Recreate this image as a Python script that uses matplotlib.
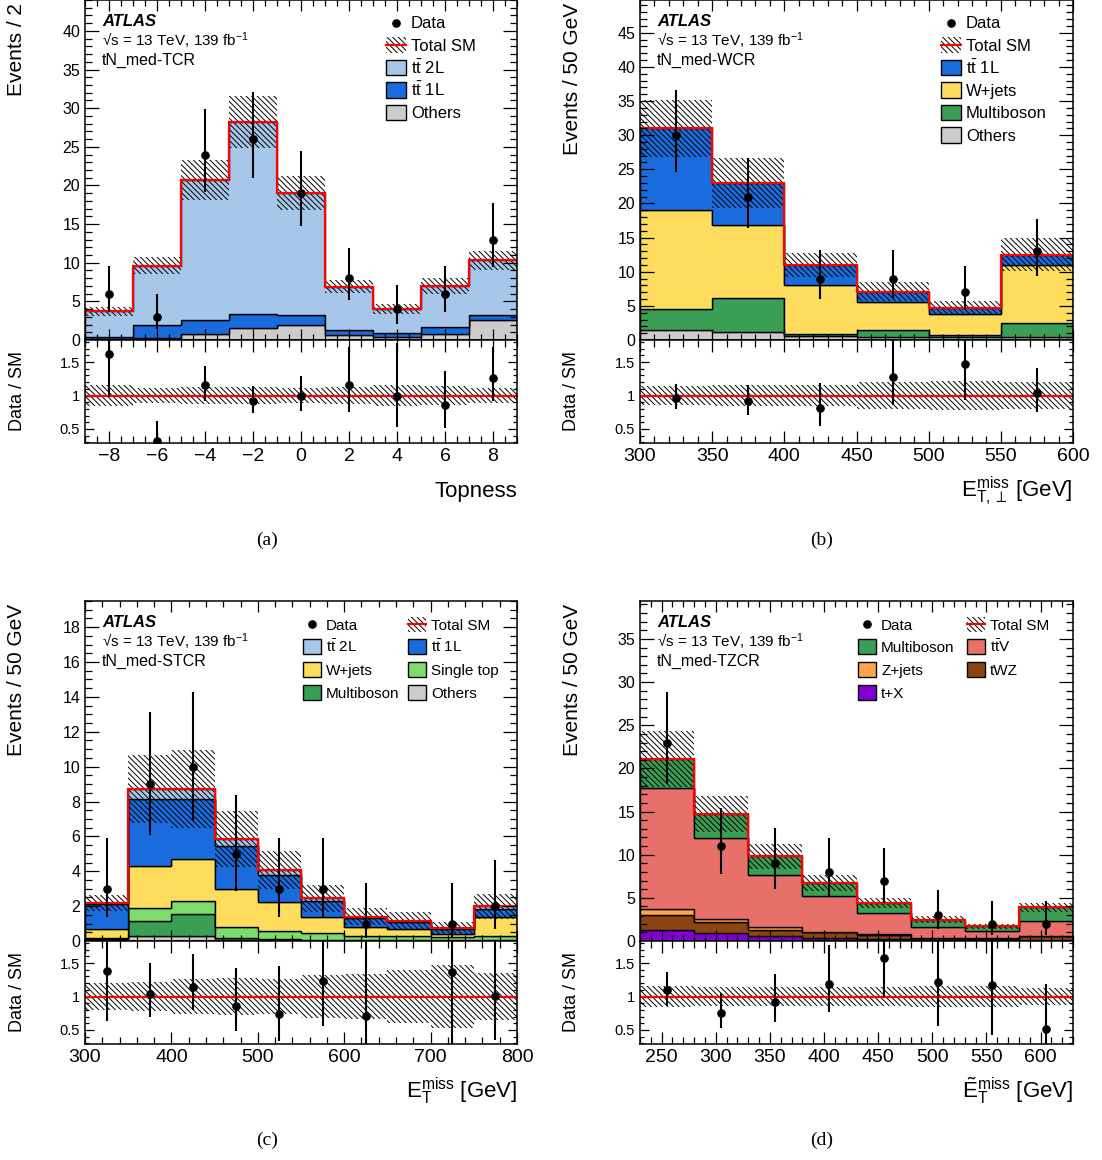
import numpy as np
import matplotlib
matplotlib.use('Agg')
import matplotlib.pyplot as plt
from matplotlib.patches import Rectangle
from matplotlib.lines import Line2D
from matplotlib.ticker import MultipleLocator

plt.rcParams['font.family'] = ['Liberation Sans', 'DejaVu Sans']
plt.rcParams['mathtext.fontset'] = 'custom'
plt.rcParams['mathtext.rm'] = 'Liberation Sans'
plt.rcParams['mathtext.it'] = 'Liberation Sans:italic'
plt.rcParams['mathtext.bf'] = 'Liberation Sans:bold'
plt.rcParams['hatch.linewidth'] = 0.7
plt.rcParams['axes.linewidth'] = 1.1

HATCH = '\\' * 6

# colours
col_tt2l = '#a7c7ea'
col_tt1l = '#1a6cdc'
col_oth = '#cccccc'
col_wj = '#fddc5e'
col_mb = '#3b9e55'
col_st = '#7ddc6c'
col_ttv = '#e8706a'
col_zj = '#ffa64d'
col_twz = '#8b4513'
col_tx = '#8000d0'

# ---------------- (a) tN_med-TCR, topness ----------------
a_edges = [-9, -7, -5, -3, -1, 1, 3, 5, 7, 9]
a_others = [0.1, 0.3, 0.8, 1.5, 2.0, 0.7, 0.4, 0.8, 2.55]
a_tt1l = [0.3, 1.6, 1.8, 1.9, 1.3, 0.6, 0.5, 0.9, 0.75]
a_tt2l = [3.3, 7.7, 18.1, 24.8, 15.7, 5.6, 3.1, 5.3, 7.0]
a_unc = [0.6, 1.1, 2.6, 3.4, 2.2, 0.85, 0.6, 1.0, 1.2]
a_data = [6, 3, 24, 26, 19, 8, 4, 6, 13]
a_lo = [2.38, 1.63, 4.87, 5.07, 4.30, 2.77, 1.91, 2.38, 3.58]
a_hi = [3.58, 2.92, 5.95, 6.15, 5.50, 3.95, 3.16, 3.58, 4.70]

# ---------------- (b) tN_med-WCR ----------------
b_edges = [300, 350, 400, 450, 500, 550, 600]
b_others = [1.5, 1.1, 0.6, 0.5, 0.45, 0.5]
b_multib = [3.1, 5.0, 0.3, 0.9, 0.25, 1.95]
b_wjets = [14.5, 10.8, 7.2, 4.1, 3.1, 8.55]
b_tt1l = [11.9, 6.1, 2.9, 1.55, 0.95, 1.5]
b_unc = [4.2, 3.6, 1.7, 1.4, 1.0, 2.45]
b_data = [30, 21, 9, 9, 7, 13]
b_lo = [5.45, 4.55, 2.94, 2.94, 2.58, 3.58]
b_hi = [6.55, 5.62, 4.11, 4.11, 3.77, 4.70]

# ---------------- (c) tN_med-STCR ----------------
c_edges = [300, 350, 400, 450, 500, 550, 600, 650, 700, 750, 800]
c_others = [0.05, 0.3, 0.27, 0.05, 0.05, 0.05, 0.04, 0.04, 0.04, 0.05]
c_multib = [0.07, 0.83, 1.28, 0.10, 0.06, 0.03, 0.03, 0.03, 0.02, 0.03]
c_single = [0.07, 0.74, 0.72, 0.63, 0.48, 0.38, 0.23, 0.20, 0.15, 0.22]
c_wjets = [0.50, 2.45, 2.41, 2.22, 1.63, 0.90, 0.48, 0.42, 0.19, 1.06]
c_tt1l = [1.46, 3.80, 3.44, 2.45, 1.56, 0.95, 0.54, 0.42, 0.27, 0.49]
c_tt2l = [0.03, 0.59, 0.59, 0.40, 0.29, 0.14, 0.08, 0.06, 0.06, 0.14]
c_unc = [0.45, 1.95, 2.24, 1.6, 1.07, 0.78, 0.47, 0.47, 0.34, 0.7]
c_data = [3, 9, 10, 5, 3, 3, 1, 0, 1, 2]
c_lo = [1.63, 2.94, 3.11, 2.16, 1.63, 1.63, 0.83, 0.0, 0.83, 1.29]
c_hi = [2.92, 4.11, 4.27, 3.38, 2.92, 2.92, 2.30, 1.84, 2.30, 2.64]

# ---------------- (d) tN_med-TZCR ----------------
d_edges = [230, 280, 330, 380, 430, 480, 530, 580, 630]
d_tx = [1.3, 0.9, 0.55, 0.35, 0.27, 0.15, 0.1, 0.15]
d_twz = [1.7, 1.25, 0.75, 0.65, 0.46, 0.15, 0.13, 0.45]
d_zjets = [0.7, 0.4, 0.36, 0.08, 0.07, 0.08, 0.07, 0.02]
d_ttv = [14.0, 9.4, 6.04, 4.12, 2.5, 1.28, 0.9, 1.68]
d_multib = [3.4, 2.75, 2.1, 1.55, 1.13, 0.81, 0.5, 1.59]
d_unc = [3.2, 2.1, 1.4, 0.95, 0.6, 0.38, 0.27, 0.5]
d_data = [23, 11, 9, 8, 7, 3, 2, 2]
d_lo = [4.77, 3.27, 2.94, 2.77, 2.58, 1.63, 1.29, 1.29]
d_hi = [5.85, 4.42, 4.11, 3.95, 3.77, 2.92, 2.64, 2.64]

TT = r'$\mathrm{t}\bar{\mathrm{t}}$'

W, H = 1102, 1160
fig = plt.figure(figsize=(W / 100, H / 100), dpi=100)


def fx(x):
    return x / W


def fy(y):
    return 1 - y / H


def add_ax(left, right, top, bottom):
    return fig.add_axes([left / W, 1 - bottom / H, (right - left) / W, (bottom - top) / H])


def style_ticks(ax, xmaj, xmin, ymaj, ymin, ratio=False):
    ax.xaxis.set_major_locator(MultipleLocator(xmaj))
    ax.xaxis.set_minor_locator(MultipleLocator(xmin))
    ax.yaxis.set_major_locator(MultipleLocator(ymaj))
    ax.yaxis.set_minor_locator(MultipleLocator(ymin))
    ax.tick_params(which='both', direction='in', top=True, right=True, width=0.9)
    if ratio:
        ax.tick_params(axis='x', which='major', length=8.5, labelsize=14)
        ax.tick_params(axis='x', which='minor', length=4.7)
        ax.tick_params(axis='y', which='major', length=6.5, labelsize=10.5)
        ax.tick_params(axis='y', which='minor', length=3.2)
    else:
        ax.tick_params(axis='x', which='major', length=8, labelbottom=False)
        ax.tick_params(axis='x', which='minor', length=4.3)
        ax.tick_params(axis='y', which='major', length=10, labelsize=11.5)
        ax.tick_params(axis='y', which='minor', length=5)


def draw_panel(ax, axr, edges, comps, unc, data, lo, hi, xlim, ylim):
    edges = np.array(edges, dtype=float)
    centers = 0.5 * (edges[1:] + edges[:-1])
    bottom = np.zeros(len(centers))
    for vals, col in comps:
        top = bottom + np.array(vals)
        ax.stairs(top, edges, baseline=bottom, fill=True, facecolor=col,
                  edgecolor='black', linewidth=1.0)
        bottom = top
    total = bottom
    unc = np.array(unc)
    ax.stairs(total + unc, edges, baseline=total - unc, fill=True, facecolor='none',
              edgecolor='black', linewidth=0, hatch=HATCH)
    ax.stairs(total, edges, baseline=None, color='red', linewidth=1.6)
    data = np.array(data, dtype=float)
    lo = np.array(lo)
    hi = np.array(hi)
    m = data > 0
    ax.errorbar(centers[m], data[m], yerr=[lo[m], hi[m]], fmt='o', color='black',
                ms=5.2, elinewidth=1.5, capsize=0)
    ax.set_xlim(xlim)
    ax.set_ylim(ylim)

    rel = unc / total
    axr.stairs(1 + rel, edges, baseline=1 - rel, fill=True, facecolor='none',
               edgecolor='black', linewidth=0, hatch=HATCH)
    axr.axhline(1, color='red', linewidth=1.6)
    ratio = data / total
    axr.errorbar(centers[m], ratio[m], yerr=[lo[m] / total[m], hi[m] / total[m]],
                 fmt='o', color='black', ms=5.2, elinewidth=1.5, capsize=0)
    axr.set_xlim(xlim)
    axr.set_ylim(0.29, 1.83)


def legend_entry(kind, label, x0, yc, w, fs, color=None):
    h = 15
    if kind == 'data':
        fig.add_artist(Line2D([fx(x0 + w / 2)], [fy(yc)], marker='o', ms=5.2, color='black',
                              linestyle='none', transform=fig.transFigure))
    elif kind == 'total':
        fig.add_artist(Rectangle((fx(x0), fy(yc + h / 2)), w / W, h / H, transform=fig.transFigure,
                                 facecolor='none', edgecolor='black', linewidth=0, hatch=HATCH))
        fig.add_artist(Line2D([fx(x0), fx(x0 + w)], [fy(yc), fy(yc)], color='red', linewidth=1.6,
                              transform=fig.transFigure))
    else:
        fig.add_artist(Rectangle((fx(x0), fy(yc + h / 2)), w / W, h / H, transform=fig.transFigure,
                                 facecolor=color, edgecolor='black', linewidth=1.0))
    fig.text(fx(x0 + w + 5), fy(yc + 0.36 * fs * 100 / 72), label, fontsize=fs,
             ha='left', va='baseline')


def atlas_label(x, top, region):
    fig.text(fx(x), fy(top + 21.5), 'ATLAS', fontsize=12, fontweight='bold',
             fontstyle='italic', ha='left', va='center')
    fig.text(fx(x), fy(top + 40.5), '\u221as = 13 TeV, 139 fb$^{-1}$', fontsize=11,
             ha='left', va='center')
    fig.text(fx(x), fy(top + 60), region, fontsize=11.5, ha='left', va='center')


# panel geometry (pixels)
axa = add_ax(85, 517, 0, 340)
axa_r = add_ax(85, 517, 340, 443)
axb = add_ax(640, 1073, 0, 340)
axb_r = add_ax(640, 1073, 340, 443)
axc = add_ax(85, 517, 601, 941)
axc_r = add_ax(85, 517, 941, 1044)
axd = add_ax(640, 1073, 601, 941)
axd_r = add_ax(640, 1073, 941, 1044)

draw_panel(axa, axa_r, a_edges,
           [(a_others, col_oth), (a_tt1l, col_tt1l), (a_tt2l, col_tt2l)],
           a_unc, a_data, a_lo, a_hi, (-9, 9), (0, 44))
style_ticks(axa, 2, 0.5, 5, 1)
style_ticks(axa_r, 2, 0.5, 0.5, 0.1, ratio=True)

draw_panel(axb, axb_r, b_edges,
           [(b_others, col_oth), (b_multib, col_mb), (b_wjets, col_wj), (b_tt1l, col_tt1l)],
           b_unc, b_data, b_lo, b_hi, (300, 600), (0, 49.8))
style_ticks(axb, 50, 10, 5, 1)
style_ticks(axb_r, 50, 10, 0.5, 0.1, ratio=True)

draw_panel(axc, axc_r, c_edges,
           [(c_others, col_oth), (c_multib, col_mb), (c_single, col_st), (c_wjets, col_wj),
            (c_tt1l, col_tt1l), (c_tt2l, col_tt2l)],
           c_unc, c_data, c_lo, c_hi, (300, 800), (0, 19.5))
style_ticks(axc, 100, 20, 2, 0.5)
style_ticks(axc_r, 100, 20, 0.5, 0.1, ratio=True)

draw_panel(axd, axd_r, d_edges,
           [(d_tx, col_tx), (d_twz, col_twz), (d_zjets, col_zj), (d_ttv, col_ttv), (d_multib, col_mb)],
           d_unc, d_data, d_lo, d_hi, (230, 630), (0, 39.4))
style_ticks(axd, 50, 10, 5, 1)
style_ticks(axd_r, 50, 10, 0.5, 0.1, ratio=True)

for ax in (axa_r, axb_r, axc_r, axd_r):
    ax.set_yticks([0.5, 1, 1.5])
    ax.set_yticklabels(['0.5', '1', '1.5'])

# labels and texts
atlas_label(102, 0, 'tN_med-TCR')
atlas_label(657, 0, 'tN_med-WCR')
atlas_label(102, 601, 'tN_med-STCR')
atlas_label(657, 601, 'tN_med-TZCR')

rows = [22.5, 45, 67.5, 90, 112.5, 135]
legend_entry('data', 'Data', 386, rows[0], 20, 12)
legend_entry('total', 'Total SM', 386, rows[1], 20, 12)
legend_entry('patch', TT + ' 2L', 386, rows[2], 20, 12, col_tt2l)
legend_entry('patch', TT + ' 1L', 386, rows[3], 20, 12, col_tt1l)
legend_entry('patch', 'Others', 386, rows[4], 20, 12, col_oth)

legend_entry('data', 'Data', 941, rows[0], 20, 12)
legend_entry('total', 'Total SM', 941, rows[1], 20, 12)
legend_entry('patch', TT + ' 1L', 941, rows[2], 20, 12, col_tt1l)
legend_entry('patch', 'W+jets', 941, rows[3], 20, 12, col_wj)
legend_entry('patch', 'Multiboson', 941, rows[4], 20, 12, col_mb)
legend_entry('patch', 'Others', 941, rows[5], 20, 12, col_oth)

rows2 = [624, 646.7, 669.4, 692]
legend_entry('data', 'Data', 303, rows2[0], 18, 11)
legend_entry('total', 'Total SM', 408, rows2[0], 18, 11)
legend_entry('patch', TT + ' 2L', 303, rows2[1], 18, 11, col_tt2l)
legend_entry('patch', TT + ' 1L', 408, rows2[1], 18, 11, col_tt1l)
legend_entry('patch', 'W+jets', 303, rows2[2], 18, 11, col_wj)
legend_entry('patch', 'Single top', 408, rows2[2], 18, 11, col_st)
legend_entry('patch', 'Multiboson', 303, rows2[3], 18, 11, col_mb)
legend_entry('patch', 'Others', 408, rows2[3], 18, 11, col_oth)

legend_entry('data', 'Data', 858, rows2[0], 18, 11)
legend_entry('total', 'Total SM', 967, rows2[0], 18, 11)
legend_entry('patch', 'Multiboson', 858, rows2[1], 18, 11, col_mb)
legend_entry('patch', TT + r'$\mathrm{V}$', 967, rows2[1], 18, 11, col_ttv)
legend_entry('patch', 'Z+jets', 858, rows2[2], 18, 11, col_zj)
legend_entry('patch', 'tWZ', 967, rows2[2], 18, 11, col_twz)
legend_entry('patch', 't+X', 858, rows2[3], 18, 11, col_tx)

# axis titles
fig.text(fx(17), fy(3), 'Events / 2', fontsize=15, rotation=90, ha='center', va='top')
fig.text(fx(572), fy(3), 'Events / 50 GeV', fontsize=15, rotation=90, ha='center', va='top')
fig.text(fx(17), fy(604), 'Events / 50 GeV', fontsize=15, rotation=90, ha='center', va='top')
fig.text(fx(572), fy(604), 'Events / 50 GeV', fontsize=15, rotation=90, ha='center', va='top')
for x, y in [(17, 391), (572, 391), (17, 992), (572, 992)]:
    fig.text(fx(x), fy(y), 'Data / SM', fontsize=13, rotation=90, ha='center', va='center')

fig.text(fx(517), fy(497), 'Topness', fontsize=16, ha='right', va='baseline')
fig.text(fx(1073), fy(497), r'$\mathrm{E}_{\mathrm{T},\perp}^{\mathrm{miss}}$ [GeV]',
         fontsize=16, ha='right', va='baseline')
fig.text(fx(517), fy(1098), r'$\mathrm{E}_{\mathrm{T}}^{\mathrm{miss}}$ [GeV]',
         fontsize=16, ha='right', va='baseline')
fig.text(fx(1073), fy(1098), r'$\tilde{\mathrm{E}}_{\mathrm{T}}^{\mathrm{miss}}$ [GeV]',
         fontsize=16, ha='right', va='baseline')

for x, y, s in [(267, 540, '(a)'), (822, 540, '(b)'), (267, 1140, '(c)'), (822, 1140, '(d)')]:
    fig.text(fx(x), fy(y), s, fontsize=14, family='Liberation Serif', ha='center', va='center')

fig.savefig('out.png', dpi=100)
